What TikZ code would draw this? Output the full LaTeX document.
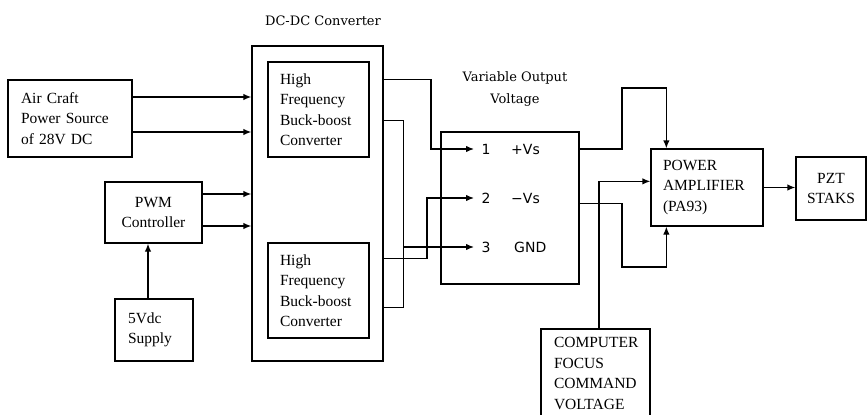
\documentclass[tikz,border=0pt]{standalone}
\usepackage{fontspec}
\setmainfont{Liberation Serif}
\newfontfamily\labelfont{DejaVu Serif}
\newfontfamily\pinfont{DejaVu Sans}
\usetikzlibrary{arrows.meta,calc}

\begin{document}
\begin{tikzpicture}[
            x=1pt, y=-1pt,
            >={Latex[length=8pt,width=6.5pt]},
            block/.style={
                rectangle,
                draw,
                line width=1.3pt,
                inner sep=0pt,
                font=\fontsize{15.5}{20.5}\selectfont
            },
            wire/.style={line width=1.3pt},
            caption/.style={
                font=\labelfont\fontsize{13}{21.5}\selectfont,
                align=center
            },
            pinlabel/.style={
                font=\pinfont\fontsize{14}{16}\selectfont,
                inner sep=0pt,
                anchor=west
            }
        ]

            \useasboundingbox (0,0) rectangle (868,415);

            \node[block, minimum width=124pt, minimum height=77pt, text width=98pt, align=left] (air) at (70,118.5) {Air Craft\\Power Source\\of 28V DC};
            \node[block, minimum width=97pt, minimum height=61pt, align=center] (pwm) at (153.5,212.5) {PWM\\Controller};
            \node[block, minimum width=78pt, minimum height=62pt, text width=52pt, align=left] (supply) at (154,330) {5Vdc\\Supply};

            \node[block, minimum width=131pt, minimum height=315pt] (dcdc) at (317.5,203.5) {};
            \node[caption] (dcdclabel) at (323,21) {DC-DC Converter};
            \node[block, minimum width=101pt, minimum height=95pt, text width=77pt, align=left] (hfa) at (318.5,109.5) {High\\Frequency\\Buck-boost\\Converter};
            \node[block, minimum width=101pt, minimum height=95pt, text width=77pt, align=left] (hfb) at (318.5,290.5) {High\\Frequency\\Buck-boost\\Converter};

            \node[block, minimum width=138pt, minimum height=152pt] (vout) at (510,208) {};
            \node[caption] (voutlabel) at (515,89) {Variable Output\\Voltage};
            \node[pinlabel, inner xsep=7.5pt] (pin1) at (474,149) {1};
            \node[pinlabel, inner xsep=7.5pt] (pin2) at (474,198) {2};
            \node[pinlabel, inner xsep=7.5pt] (pin3) at (474,247) {3};
            \node[pinlabel] (vplus) at (511,149) {+Vs};
            \node[pinlabel] (vminus) at (511,198) {−Vs};
            \node[pinlabel] (gnd) at (514,247) {GND};

            \node[block, minimum width=112pt, minimum height=77pt, text width=88pt, align=left] (pa) at (707,187.5) {POWER\\AMPLIFIER\\(PA93)};
            \node[block, minimum width=70pt, minimum height=63pt, align=center] (pzt) at (831,188.5) {PZT\\STAKS};
            \node[block, minimum width=109pt, minimum height=89pt, text width=83pt, align=left] (cfc) at (595.5,373.5) {COMPUTER\\FOCUS\\COMMAND\\VOLTAGE};

            \coordinate (a1) at ($(hfa.north -| dcdc.east)+(0,18)$);
            \coordinate (a2) at ($(hfa.south -| dcdc.east)+(0,-37)$);
            \coordinate (b1) at ($(hfb.north -| dcdc.east)+(0,16)$);
            \coordinate (b2) at ($(hfb.south -| dcdc.east)+(0,-31)$);
            \coordinate (bus) at ($(b2)+(20,0)$);
            \coordinate (o1) at (pin1 -| vout.east);
            \coordinate (o2) at ($(vout.north east)+(0,72)$);

            \draw[wire, ->] ($(air.east)+(0,-21.5)$) coordinate (air1) -- (air1 -| dcdc.west);
            \draw[wire, ->] ($(air.east)+(0,13.5)$) coordinate (air2) -- (air2 -| dcdc.west);
            \draw[wire, ->] ($(pwm.east)+(0,-18.5)$) coordinate (pwm1) -- (pwm1 -| dcdc.west);
            \draw[wire, ->] ($(pwm.east)+(0,13.5)$) coordinate (pwm2) -- (pwm2 -| dcdc.west);
            \draw[wire, ->] ($(supply.north)+(-6,0)$) coordinate (sup1) -- (sup1 |- pwm.south);

            \draw[wire, ->] (a1) -| ($(pin1.west)+(-43,0)$) -- (pin1.west);
            \draw[wire] (a2) -| (bus) -- (b2);
            \draw[wire, ->] (bus |- pin3.west) -- (pin3.west);
            \draw[wire, ->] (b1) -| ($(pin2.west)+(-47,0)$) -- (pin2.west);

            \draw[wire, ->] (o1) -| (622,88) -| ($(pa.north west)+(16,0)$);
            \draw[wire, ->] (o2) -| (622,267) -| ($(pa.south west)+(16,0)$);
            \draw[wire, ->] ($(cfc.north)+(3.5,0)$) |- ($(pa.north west)+(0,33)$);
            \draw[wire, ->] (pa.east) -- (pa.east -| pzt.west);

        \end{tikzpicture}
\end{document}
